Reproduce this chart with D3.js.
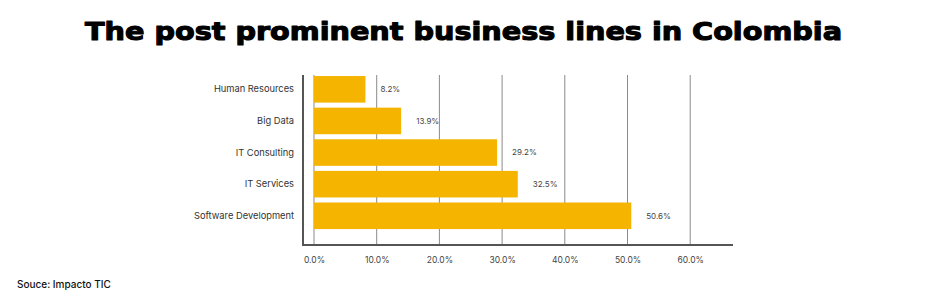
<!DOCTYPE html>
<html>
<head>
<meta charset="utf-8">
<script src="https://cdn.jsdelivr.net/npm/d3@7"></script>
<style>
  body { margin: 0; background: #fff; }
  text { font-family: Inter, "Noto Sans", sans-serif; }
</style>
</head>
<body>
<div id="container"></div>
<script>
var width = 926,
    height = 300;

var categories = ['Human Resources', 'Big Data', 'IT Consulting', 'IT Services', 'Software Development'];
var values = [8.2, 13.9, 29.2, 32.5, 50.6];
var x_ticks = [0, 10, 20, 30, 40, 50, 60];

var svg = d3.select('#container')
    .append('svg')
    .attr('width', width)
    .attr('height', height);

// title
svg.append('text')
    .text('The post prominent business lines in Colombia')
    .attr('x', 85)
    .attr('y', 40)
    .attr('textLength', 757)
    .attr('lengthAdjust', 'spacingAndGlyphs')
    .style('font-family', '"DejaVu Sans", sans-serif')
    .style('font-weight', 'bold')
    .style('font-size', '25px')
    .attr('fill', '#000')
    .attr('stroke', '#000')
    .attr('stroke-width', 1.1)
    .attr('stroke-linejoin', 'round');

var scale_x = d3.scaleLinear()
    .domain([0, 10])
    .range([314, 376.7]);

var scale_y = d3.scaleBand()
    .domain(categories)
    .range([73.5, 231.6])
    .paddingInner(0.16)
    .paddingOuter(0.08);

var axis_top = 75,
    axis_bottom = 245;

// grid
svg.append('g')
    .selectAll('line')
    .data(x_ticks)
    .enter()
    .append('line')
    .attr('x1', function (d) { return scale_x(d); })
    .attr('x2', function (d) { return scale_x(d); })
    .attr('y1', axis_top)
    .attr('y2', axis_bottom)
    .attr('stroke', '#8a8a8a')
    .attr('stroke-width', 1);

// bars
svg.append('g')
    .selectAll('rect')
    .data(values)
    .enter()
    .append('rect')
    .attr('x', scale_x(0))
    .attr('y', function (d, i) { return scale_y(categories[i]); })
    .attr('width', function (d) { return scale_x(d) - scale_x(0); })
    .attr('height', scale_y.bandwidth())
    .attr('fill', '#F4B400');

// value labels
svg.append('g')
    .selectAll('text')
    .data(values)
    .enter()
    .append('text')
    .text(function (d) { return d.toFixed(1) + '%'; })
    .attr('x', function (d) { return scale_x(d) + 15; })
    .attr('y', function (d, i) { return scale_y(categories[i]) + scale_y.bandwidth() / 2; })
    .attr('dy', '0.35em')
    .style('font-size', '8px')
    .attr('fill', '#444');

// y axis
var y_axis = d3.axisLeft(scale_y).tickSize(0).tickPadding(9);
var gy = svg.append('g')
    .attr('transform', 'translate(303,0)')
    .call(y_axis);
gy.select('.domain').remove();
gy.selectAll('text')
    .style('font-size', '9.3px')
    .attr('fill', '#333');
svg.append('line')
    .attr('x1', 303).attr('x2', 303)
    .attr('y1', axis_top).attr('y2', axis_bottom)
    .attr('stroke', '#555').attr('stroke-width', 2);

// x axis
var x_axis = d3.axisBottom(scale_x)
    .tickValues(x_ticks)
    .tickSize(0)
    .tickPadding(12)
    .tickFormat(function (d) { return d.toFixed(1) + '%'; });
var gx = svg.append('g')
    .attr('transform', 'translate(0,' + axis_bottom + ')')
    .call(x_axis);
gx.select('.domain').remove();
gx.selectAll('text')
    .style('font-size', '8.5px')
    .attr('fill', '#444');
svg.append('line')
    .attr('x1', 302).attr('x2', 733)
    .attr('y1', axis_bottom).attr('y2', axis_bottom)
    .attr('stroke', '#555').attr('stroke-width', 2);

// source
svg.append('text')
    .text('Souce: Impacto TIC')
    .attr('x', 17)
    .attr('y', 288)
    .style('font-size', '10px')
    .style('font-weight', 500)
    .attr('fill', '#111');
</script>
</body>
</html>
